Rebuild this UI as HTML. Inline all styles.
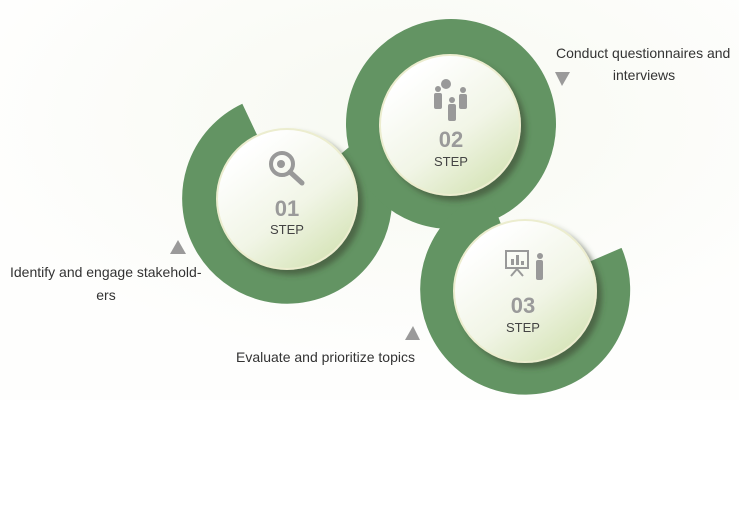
<!DOCTYPE html>
<html><head><meta charset="utf-8"><style>
html,body{margin:0;padding:0;background:#fff;}
svg{display:block;}
text{font-family:"Liberation Sans",sans-serif;}
</style></head><body>
<svg width="739" height="519" viewBox="0 0 739 519" xmlns="http://www.w3.org/2000/svg">
<defs>
<radialGradient id="bg" cx="0.55" cy="0.3" r="0.6">
<stop offset="0" stop-color="#f7f9f1"/><stop offset="1" stop-color="#fefefd"/>
</radialGradient>
<linearGradient id="cg" x1="0.2" y1="0.15" x2="0.8" y2="0.95">
<stop offset="0" stop-color="#ffffff"/><stop offset="0.55" stop-color="#f1f5e6"/><stop offset="1" stop-color="#d6e4b8"/>
</linearGradient>
<filter id="sh" x="-30%" y="-30%" width="160%" height="160%">
<feDropShadow dx="5" dy="5" stdDeviation="3" flood-color="#3a4a30" flood-opacity="0.6"/>
</filter>
</defs>
<rect width="739" height="519" fill="#fff"/>
<rect width="739" height="400" fill="url(#bg)"/>
<g fill="none" stroke="#639463" stroke-width="36">
<path d="M250 120 A87 87 0 1 0 354 143"/>
<circle cx="451" cy="124" r="87"/>
<path d="M495 208 A87 87 0 1 0 605 255"/>
</g>
<g filter="url(#sh)">
<circle cx="287" cy="199" r="70" fill="url(#cg)" stroke="#ecedcf" stroke-width="2"/>
<circle cx="450" cy="125" r="70" fill="url(#cg)" stroke="#ecedcf" stroke-width="2"/>
<circle cx="525" cy="291" r="71" fill="url(#cg)" stroke="#ecedcf" stroke-width="2"/>
</g>
<g fill="none" stroke="#999" >
<circle cx="282" cy="164" r="11" stroke-width="4"/>
<line x1="290" y1="172" x2="302" y2="183" stroke-width="5" stroke-linecap="round"/>
</g>
<circle cx="281" cy="164" r="4" fill="#999"/>
<g fill="#999">
<circle cx="446" cy="84" r="5"/>
<circle cx="438" cy="89" r="3"/><rect x="434" y="93" width="8" height="16" rx="2"/>
<circle cx="463" cy="90" r="3"/><rect x="459" y="94" width="8" height="15" rx="2"/>
<circle cx="452" cy="100" r="3"/><rect x="448" y="104" width="8" height="17" rx="2"/>
</g>
<g fill="#999">
<rect x="506" y="251" width="22" height="17" fill="none" stroke="#999" stroke-width="2"/>
<rect x="511" y="259" width="3" height="6"/><rect x="516" y="255" width="3" height="10"/><rect x="521" y="261" width="3" height="4"/>
<line x1="517" y1="269" x2="511" y2="276" stroke="#999" stroke-width="2"/>
<line x1="517" y1="269" x2="523" y2="276" stroke="#999" stroke-width="2"/>
<circle cx="540" cy="256" r="3"/><rect x="536" y="260" width="7" height="20" rx="2"/>
</g>
<g text-anchor="middle">
<text x="287" y="216" font-size="22" font-weight="bold" fill="#9a9a9a">01</text>
<text x="287" y="234" font-size="13" fill="#444">STEP</text>
<text x="451" y="147" font-size="22" font-weight="bold" fill="#9a9a9a">02</text>
<text x="451" y="166" font-size="13" fill="#444">STEP</text>
<text x="523" y="313" font-size="22" font-weight="bold" fill="#9a9a9a">03</text>
<text x="523" y="332" font-size="13" fill="#444">STEP</text>
</g>
<g fill="#9a9a9a">
<polygon points="170,254 186,254 178,240"/>
<polygon points="555,72 570,72 562,86"/>
<polygon points="405,340 420,340 413,326"/>
</g>
<g font-size="14" fill="#333">
<text x="10" y="277">Identify and engage stakehold-</text>
<text x="106" y="300" text-anchor="middle">ers</text>
<text x="556" y="58">Conduct questionnaires and</text>
<text x="644" y="80" text-anchor="middle">interviews</text>
<text x="236" y="362">Evaluate and prioritize topics</text>
</g>
</svg>
</body></html>
